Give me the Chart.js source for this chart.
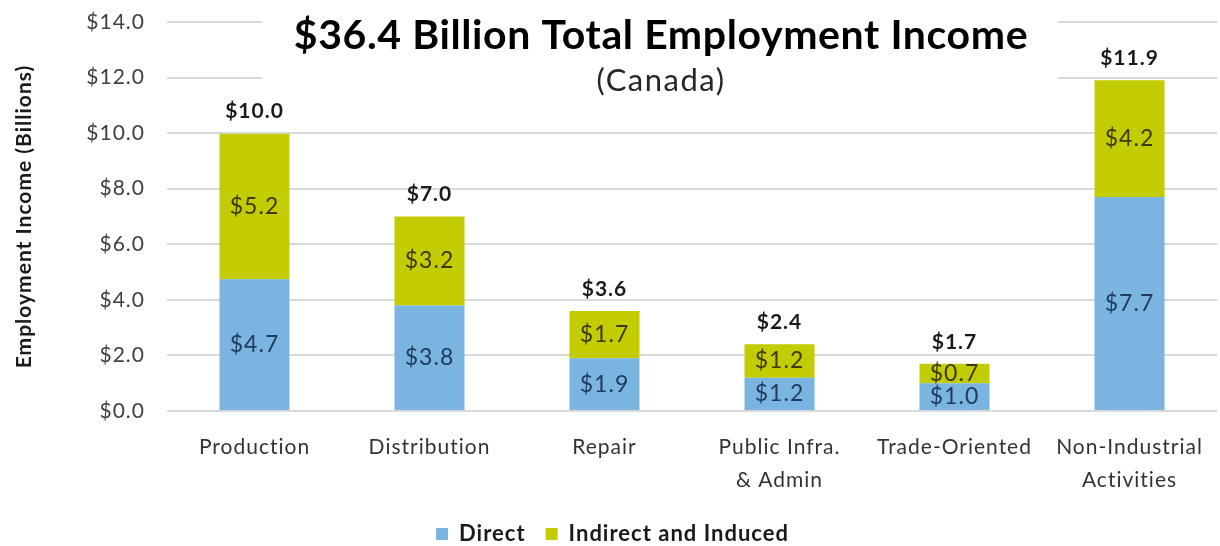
<!DOCTYPE html>
<html lang="en">
<head>
    <meta charset="UTF-8">
    <title>Total Employment Income</title>
    <script src="https://cdn.jsdelivr.net/npm/chart.js"></script>
    <style>
        html, body { margin: 0; padding: 0; background: #fff; }
        #wrap { width: 1220px; height: 546px; }
    </style>
</head>
<body>
    <div id="wrap"><canvas id="incomeChart" width="1220" height="546"></canvas></div>

    <script>
        // Employment income by sector, billions of dollars
        const categories = ['Production', 'Distribution', 'Repair', ['Public Infra.', '& Admin'], 'Trade-Oriented', ['Non-Industrial', 'Activities']];
        const direct = [4.74, 3.8, 1.9, 1.2, 1.0, 7.7];
        const indirectInduced = [5.24, 3.2, 1.7, 1.2, 0.7, 4.2];
        const yTicks = [0, 2, 4, 6, 8, 10, 12, 14];

        const titleText = '$36.4 Billion Total Employment Income';
        const subtitleText = '(Canada)';
        const FONT = 'Lato, "Open Sans", sans-serif';

        const money = v => '$' + v.toFixed(1);

        // a little tracking on all text, like the original deck font
        const tracking = {
            id: 'tracking',
            beforeLayout(chart) { chart.ctx.letterSpacing = '1px'; },
            beforeDraw(chart) { chart.ctx.letterSpacing = '1px'; }
        };

        // title sits inside the plot, over the grid lines
        const insetTitle = {
            id: 'insetTitle',
            beforeDatasetsDraw(chart) {
                const ctx = chart.ctx;
                const cx = 661;
                ctx.save();
                ctx.fillStyle = '#fff';
                ctx.fillRect(262, 0, 796, 104);
                ctx.fillStyle = '#000';
                ctx.textAlign = 'center';
                ctx.textBaseline = 'middle';
                ctx.letterSpacing = '0.6px';
                ctx.font = 'bold 41px ' + FONT;
                ctx.fillText(titleText, cx, 36);
                ctx.fillStyle = '#262626';
                ctx.letterSpacing = '1.5px';
                ctx.font = '31px ' + FONT;
                ctx.fillText(subtitleText, cx, 81);
                ctx.restore();
            }
        };

        // values inside each segment and totals above each stack
        const barLabels = {
            id: 'barLabels',
            afterDatasetsDraw(chart) {
                const ctx = chart.ctx;
                const yScale = chart.scales.y;
                const colours = ['#1f3a5c', '#3a3a10'];
                ctx.save();
                ctx.textAlign = 'center';
                ctx.textBaseline = 'middle';
                ctx.letterSpacing = '1px';
                chart.data.datasets.forEach((ds, di) => {
                    const meta = chart.getDatasetMeta(di);
                    ctx.font = '23px ' + FONT;
                    ctx.fillStyle = colours[di];
                    meta.data.forEach((bar, i) => {
                        const mid = (bar.y + bar.base) / 2;
                        ctx.fillText(money(ds.data[i]), bar.x, mid);
                    });
                });
                const top = chart.getDatasetMeta(1);
                ctx.font = 'bold 21px ' + FONT;
                ctx.fillStyle = '#1a1a1a';
                top.data.forEach((bar, i) => {
                    const total = direct[i] + indirectInduced[i];
                    ctx.fillText(money(total), bar.x, yScale.getPixelForValue(total) - 22);
                });
                ctx.restore();
            }
        };

        new Chart(document.getElementById('incomeChart'), {
            type: 'bar',
            data: {
                labels: categories,
                datasets: [
                    {
                        label: 'Direct',
                        data: direct,
                        backgroundColor: '#7ab4e0',
                        barPercentage: 0.8,
                        categoryPercentage: 0.5
                    },
                    {
                        label: 'Indirect and Induced',
                        data: indirectInduced,
                        backgroundColor: '#c3cc00',
                        barPercentage: 0.8,
                        categoryPercentage: 0.5
                    }
                ]
            },
            options: {
                responsive: false,
                animation: false,
                devicePixelRatio: 1,
                layout: { padding: { left: 8, right: 3, top: 0, bottom: 0 } },
                plugins: {
                    title: { display: false },
                    tooltip: { enabled: false },
                    legend: {
                        position: 'bottom',
                        maxHeight: 43,
                        labels: {
                            boxWidth: 12,
                            boxHeight: 12,
                            padding: 20,
                            color: '#1a1a1a',
                            font: { family: FONT, size: 22, weight: 'bold', lineHeight: 1 }
                        }
                    }
                },
                scales: {
                    x: {
                        stacked: true,
                        grid: { display: false },
                        border: { display: false },
                        ticks: {
                            color: '#333',
                            padding: 12,
                            maxRotation: 0,
                            autoSkip: false,
                            font: { family: FONT, size: 21, lineHeight: 1.55 }
                        },
                        afterFit(scale) { scale.height = 92; }
                    },
                    y: {
                        stacked: true,
                        min: 0,
                        max: 14,
                        afterBuildTicks(scale) { scale.ticks = yTicks.map(v => ({ value: v })); },
                        grid: { color: '#d9d9d9', lineWidth: 2, drawTicks: false },
                        border: { display: false },
                        ticks: {
                            color: '#404040',
                            padding: 22,
                            font: { family: FONT, size: 21 },
                            callback: v => money(v)
                        },
                        title: {
                            display: true,
                            text: 'Employment Income (Billions)',
                            color: '#1a1a1a',
                            font: { family: FONT, size: 21, weight: 'bold' },
                            padding: { top: 4, bottom: 10 }
                        },
                        afterFit(scale) {
                            scale.width = 159;
                            scale.paddingTop = 22;
                            scale.paddingBottom = 12;
                        }
                    }
                }
            },
            plugins: [tracking, insetTitle, barLabels]
        });
    </script>
</body>
</html>
